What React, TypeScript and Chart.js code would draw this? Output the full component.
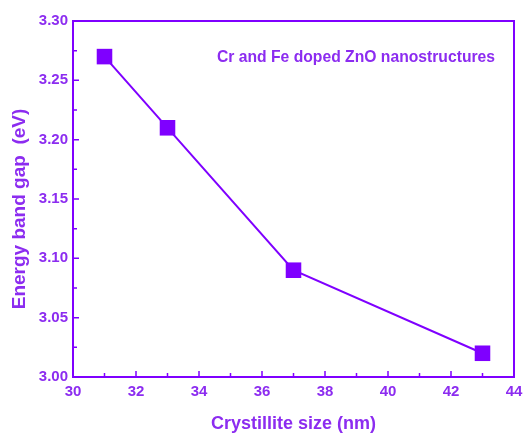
import React, { useEffect, useRef } from "react";
import { Chart, registerables } from "chart.js";
Chart.register(...registerables);

const crystalliteSize = [31, 33, 37, 43];
const bandGap = [3.27, 3.21, 3.09, 3.02];
const legendText = "Cr and Fe doped ZnO nanostructures";
const xTitle = "Crystillite size (nm)";
const yTitle = "Energy band gap  (eV)";

const MARK = "#7f00ff";
const TEXT = "#8c2cf0";
const FONT = "'Liberation Sans', Arial, sans-serif";

const framePlugin = {
  id: "frame",
  afterDraw(chart: any) {
    const { ctx, chartArea: a, scales } = chart;
    const x = scales.x, y = scales.y;
    ctx.save();
    ctx.strokeStyle = MARK;
    ctx.lineWidth = 2;
    ctx.strokeRect(a.left, a.top, a.right - a.left, a.bottom - a.top);
    ctx.lineWidth = 1.5;
    ctx.beginPath();
    for (let v = 30; v <= 44; v += 1) {
      const px = x.getPixelForValue(v);
      const len = v % 2 === 0 ? 6 : 4;
      ctx.moveTo(px, a.bottom);
      ctx.lineTo(px, a.bottom - len);
    }
    for (let i = 0; i <= 12; i++) {
      const v = 3.0 + i * 0.025;
      const py = y.getPixelForValue(v);
      const len = i % 2 === 0 ? 6 : 4;
      ctx.moveTo(a.left, py);
      ctx.lineTo(a.left + len, py);
    }
    ctx.stroke();
    ctx.fillStyle = TEXT;
    ctx.font = `bold 15.7px ${FONT}`;
    ctx.textAlign = "left";
    ctx.textBaseline = "middle";
    ctx.fillText(legendText, 217, 58);
    // y-axis title
    ctx.font = `bold 19px ${FONT}`;
    ctx.textAlign = "center";
    ctx.translate(20, 209);
    ctx.rotate(-Math.PI / 2);
    ctx.fillText(yTitle, 0, 0);
    ctx.restore();
  },
};

export default function App() {
  const ref = useRef<HTMLCanvasElement>(null);
  useEffect(() => {
    document.body.style.margin = "0";
    const chart = new Chart(ref.current!, {
      type: "line",
      data: {
        datasets: [
          {
            data: crystalliteSize.map((s, i) => ({ x: s, y: bandGap[i] })),
            borderColor: MARK,
            backgroundColor: MARK,
            borderWidth: 2,
            pointStyle: "rect",
            pointRadius: 11,
            pointBorderWidth: 0,
            tension: 0,
          },
        ],
      },
      options: {
        animation: false,
        responsive: false,
        layout: { padding: { top: 21, right: 9, left: 0, bottom: 0 } },
        plugins: { legend: { display: false }, tooltip: { enabled: false } },
        scales: {
          x: {
            type: "linear",
            min: 30,
            max: 44,
            grid: { display: false, drawTicks: false },
            border: { display: false },
            ticks: {
              stepSize: 2,
              color: TEXT,
              font: { family: FONT, size: 15, weight: "bold" },
              padding: 6,
            },
            title: {
              display: true,
              text: xTitle,
              color: TEXT,
              font: { family: FONT, size: 18, weight: "bold" },
              padding: { top: 0, bottom: 0 },
            },
            afterFit(s: any) {
              s.height = 58;
              s.paddingLeft = 0;
              s.paddingRight = 0;
            },
          },
          y: {
            min: 3.0,
            max: 3.3,
            grid: { display: false, drawTicks: false },
            border: { display: false },
            ticks: {
              stepSize: 0.05,
              color: TEXT,
              font: { family: FONT, size: 15, weight: "bold" },
              padding: 5,
              callback: (v: any) => Number(v).toFixed(2),
            },
            afterFit(s: any) {
              s.width = 73;
              s.paddingTop = 0;
              s.paddingBottom = 0;
            },
          },
        },
      },
      plugins: [framePlugin],
    });
    return () => chart.destroy();
  }, []);
  return <canvas ref={ref} width={525} height={435} />;
}
